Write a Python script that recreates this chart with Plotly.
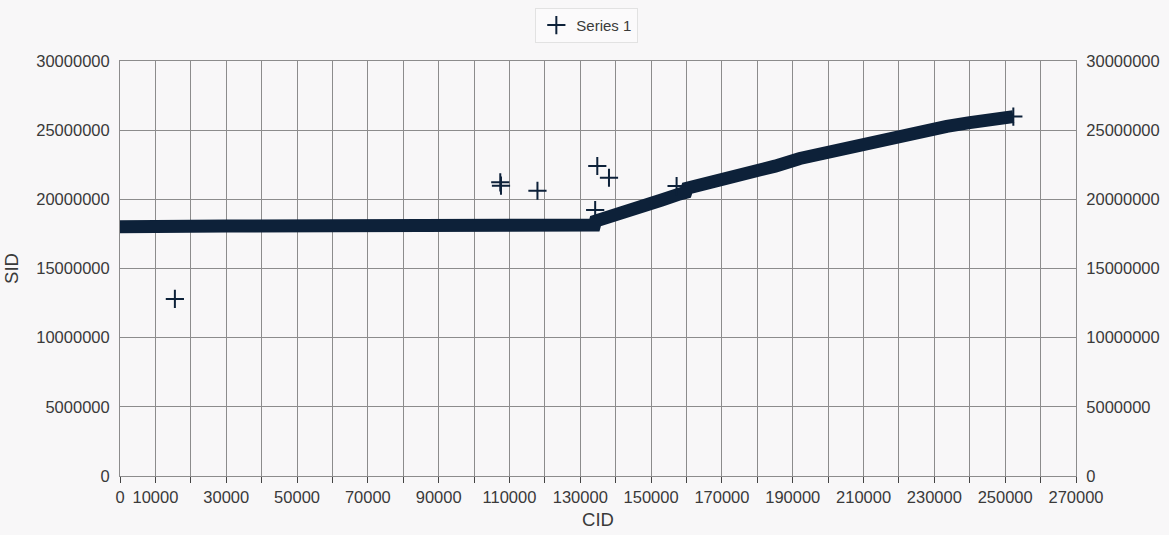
import plotly.graph_objects as go

# Main dense run of points (CID, SID) read along the band
band_cid = [0, 5000, 30000, 60000, 90000, 120000, 134000, 134300, 139300, 144000,
            148700, 153000, 158100, 159800, 160200, 163800, 170000, 177000, 185000,
            192000, 200000, 207000, 214600, 220300, 227000, 233500, 240000, 245000, 252300]
band_sid = [18020000, 18050000, 18070000, 18090000, 18110000, 18130000, 18140000,
            18430000, 18800000, 19100000, 19550000, 19950000, 20390000, 20500000,
            20800000, 21000000, 21350000, 21850000, 22400000, 22950000, 23420000,
            23830000, 24300000, 24600000, 24950000, 25280000, 25550000, 25730000, 25980000]

# Isolated points
out_cid = [15500, 107400, 107600, 117900, 134800, 138100, 134200, 157200]
out_sid = [12800000, 21230000, 20990000, 20620000, 22410000, 21560000, 19230000, 20960000]

x_ticks = list(range(0, 270001, 10000))
x_labels = [str(v) if (v == 0 or (v // 10000) % 2 == 1) else "" for v in x_ticks]
y_ticks = list(range(0, 30000001, 5000000))

col = "#0d2139"
bg = "#f8f7f8"
grid = "#8c8c8c"
txt = "#3a3a3a"

fig = go.Figure()
fig.add_trace(go.Scatter(
    x=band_cid, y=band_sid, mode="lines", showlegend=False,
    line=dict(color=col, width=13), hoverinfo="skip"))
fig.add_trace(go.Scatter(
    x=band_cid[-1:], y=band_sid[-1:], mode="markers", showlegend=False,
    marker=dict(symbol="cross-thin", size=13, color=col, line=dict(color=col, width=2)),
    hoverinfo="skip"))
fig.add_trace(go.Scatter(
    x=out_cid, y=out_sid, mode="markers", name="Series 1", yaxis="y2",
    marker=dict(symbol="cross-thin", size=13, color=col, line=dict(color=col, width=2))))

fig.update_layout(
    width=1169, height=535,
    paper_bgcolor=bg, plot_bgcolor=bg,
    margin=dict(l=120, r=93, t=61, b=59, autoexpand=False),
    font=dict(family="Liberation Sans, Arial, sans-serif", color=txt, size=16),
    showlegend=True,
    legend=dict(orientation="h", x=0.502, xanchor="center", xref="container",
                y=0.92, yanchor="bottom", yref="container",
                bgcolor="#fbfafb", bordercolor="#e2e2e2", borderwidth=1,
                font=dict(size=15, color=txt)),
    xaxis=dict(range=[0, 270000], tickvals=x_ticks, ticktext=x_labels, automargin=False,
               showgrid=True, gridcolor=grid, gridwidth=1, zeroline=False,
               showline=True, mirror=True, linecolor=grid, ticks="outside", ticklen=6,
               tickcolor="#444444", tickfont=dict(size=16.5, color=txt),
               title=dict(text="CID", font=dict(size=18.5, color=txt), standoff=8)),
    yaxis=dict(range=[0, 30000000], tickvals=y_ticks, ticktext=[str(v) for v in y_ticks],
               automargin=False,
               showgrid=True, gridcolor=grid, gridwidth=1, zeroline=False,
               showline=True, mirror=True, linecolor=grid, ticks="outside", ticklen=6,
               tickcolor="rgba(0,0,0,0)", tickfont=dict(size=16.5, color=txt),
               title=dict(text="SID", font=dict(size=18.5, color=txt), standoff=12)),
    yaxis2=dict(range=[0, 30000000], tickvals=y_ticks, ticktext=[str(v) for v in y_ticks],
                automargin=False,
                overlaying="y", side="right", showgrid=False, zeroline=False,
                showline=False, ticks="outside", ticklen=6, tickcolor="rgba(0,0,0,0)",
                tickfont=dict(size=16.5, color=txt)),
)

fig.write_html("out.html", config={"displayModeBar": False},
               post_script="document.body.style.margin='0';document.body.style.overflow='hidden';")
